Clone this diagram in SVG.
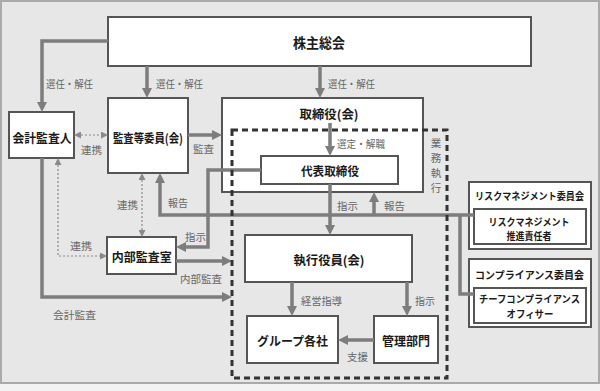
<svg xmlns="http://www.w3.org/2000/svg" width="600" height="391" viewBox="0 0 600 391">
<style>
.box{fill:#fff;stroke:#555;stroke-width:2}
.n{font-family:"Noto Sans CJK JP","Noto Sans CJK SC",sans-serif;font-weight:bold;fill:#1a1a1a;text-anchor:middle;dominant-baseline:central}
.l{font-family:"Noto Sans CJK JP","Noto Sans CJK SC",sans-serif;font-size:10.5px;fill:#666;dominant-baseline:central}
.c{fill:none;stroke:#7d7d7d;stroke-width:3.5;marker-end:url(#ah)}
.cn{fill:none;stroke:#7d7d7d;stroke-width:3.5}
.d{fill:none;stroke:#8a8a8a;stroke-width:1.2;stroke-dasharray:2 2;marker-end:url(#ad);marker-start:url(#ad)}
</style>
<defs>
<marker id="ah" viewBox="0 0 10 10" refX="5" refY="5" markerWidth="10" markerHeight="10" markerUnits="userSpaceOnUse" orient="auto">
<path d="M0,0 L10,5 L0,10 z" fill="#7d7d7d"/>
</marker>
<marker id="ad" viewBox="0 0 7 7" refX="4" refY="3.5" markerWidth="7" markerHeight="7" markerUnits="userSpaceOnUse" orient="auto-start-reverse">
<path d="M0,0 L7,3.5 L0,7 z" fill="#8a8a8a"/>
</marker>
</defs>
<rect x="1" y="1" width="598" height="382" fill="#e7e7e7" stroke="#aaa" stroke-width="2"/>
<rect x="0" y="384" width="600" height="7" fill="#f3f3f3"/>

<g id="n-kabunushi"><rect class="box" x="108" y="17" width="423" height="49"/><text class="n" x="319" y="42" font-size="14" textLength="52" lengthAdjust="spacingAndGlyphs">株主総会</text></g>
<g id="n-kaikei"><rect class="box" x="9" y="112" width="65" height="46"/><text class="n" x="42" y="137" font-size="12.5" textLength="59" lengthAdjust="spacingAndGlyphs">会計監査人</text></g>
<g id="n-kansa"><rect class="box" x="108" y="98" width="80" height="75"/><text class="n" x="148" y="137" font-size="12.5" textLength="70" lengthAdjust="spacingAndGlyphs">監査等委員(会)</text></g>
<g id="n-torishimari"><rect class="box" x="222" y="98" width="201" height="94"/><text class="n" x="329" y="113" font-size="12.5" textLength="59" lengthAdjust="spacingAndGlyphs">取締役(会)</text></g>
<g id="n-daihyo"><rect class="box" x="261" y="156" width="137" height="28"/><text class="n" x="330" y="170" font-size="12.5" textLength="58" lengthAdjust="spacingAndGlyphs">代表取締役</text></g>
<g id="n-shikko"><rect class="box" x="245" y="235" width="167" height="47"/><text class="n" x="329" y="259" font-size="12.5" textLength="71" lengthAdjust="spacingAndGlyphs">執行役員(会)</text></g>
<g id="n-group"><rect class="box" x="247" y="316" width="91" height="47"/><text class="n" x="292.5" y="340" font-size="12.5" textLength="71" lengthAdjust="spacingAndGlyphs">グループ各社</text></g>
<g id="n-kanri"><rect class="box" x="374" y="316" width="64" height="47"/><text class="n" x="406" y="340" font-size="12.5" textLength="48" lengthAdjust="spacingAndGlyphs">管理部門</text></g>
<g id="n-naibu"><rect class="box" x="107" y="237" width="69" height="37"/><text class="n" x="141.7" y="256.5" font-size="12.5" textLength="60" lengthAdjust="spacingAndGlyphs">内部監査室</text></g>
<g id="n-risk"><rect class="box" x="469" y="182" width="122" height="67"/><text class="n" x="529.5" y="195" font-size="10" textLength="109" lengthAdjust="spacingAndGlyphs">リスクマネジメント委員会</text>
<rect class="box" x="474" y="209" width="112" height="35"/><text class="n" x="529" y="221.5" font-size="10" textLength="81" lengthAdjust="spacingAndGlyphs">リスクマネジメント</text><text class="n" x="529" y="235.5" font-size="10" textLength="45" lengthAdjust="spacingAndGlyphs">推進責任者</text></g>
<g id="n-comp"><rect class="box" x="469" y="259" width="122" height="68"/><text class="n" x="529.5" y="274" font-size="10.5" textLength="109" lengthAdjust="spacingAndGlyphs">コンプライアンス委員会</text>
<rect class="box" x="474" y="288" width="112" height="35"/><text class="n" x="529.5" y="298" font-size="10" textLength="101" lengthAdjust="spacingAndGlyphs">チーフコンプライアンス</text><text class="n" x="530" y="313" font-size="10" textLength="47" lengthAdjust="spacingAndGlyphs">オフィサー</text></g>

<g id="connectors">
<path class="c" d="M108,41 H42 V107"/>
<path class="c" d="M147,66 V93"/>
<path class="c" d="M320,66 V93"/>
<path class="c" d="M188,135 H217"/>
<path class="c" d="M330,123 V151"/>
<path class="c" d="M330,184 V230"/>
<path class="c" d="M374,215 V197"/>
<path class="c" d="M474,215 H160 V178"/>
<path class="cn" d="M460,215 V294 H474"/>
<path class="c" d="M261,170 H208 V247 H181"/>
<path class="c" d="M176,261 H227"/>
<path class="c" d="M42,158 V297 H227"/>
<path class="c" d="M292,282 V311"/>
<path class="c" d="M407,282 V311"/>
<path class="c" d="M374,340 H343"/>
<path class="d" d="M77,135 H105"/>
<path class="d" d="M58,161 V256 H104"/>
<path class="d" d="M142,176 V234"/>

<text class="l" x="46" y="83" textLength="47" lengthAdjust="spacingAndGlyphs">選任・解任</text>
<text class="l" x="156" y="83" textLength="47" lengthAdjust="spacingAndGlyphs">選任・解任</text>
<text class="l" x="328" y="83" textLength="47" lengthAdjust="spacingAndGlyphs">選任・解任</text>
<text class="l" x="193" y="148" textLength="21" lengthAdjust="spacingAndGlyphs">監査</text>
<text class="l" x="81" y="149" textLength="21" lengthAdjust="spacingAndGlyphs">連携</text>
<text class="l" x="337" y="143" textLength="48" lengthAdjust="spacingAndGlyphs">選定・解職</text>
<text class="l" x="337" y="205" textLength="21" lengthAdjust="spacingAndGlyphs">指示</text>
<text class="l" x="384" y="205" textLength="21" lengthAdjust="spacingAndGlyphs">報告</text>
<text class="l" x="168" y="202" textLength="20" lengthAdjust="spacingAndGlyphs">報告</text>
<text class="l" x="117" y="204" textLength="21" lengthAdjust="spacingAndGlyphs">連携</text>
<text class="l" x="185" y="236" textLength="21" lengthAdjust="spacingAndGlyphs">指示</text>
<text class="l" x="70" y="245" textLength="22" lengthAdjust="spacingAndGlyphs">連携</text>
<text class="l" x="180" y="278" textLength="42" lengthAdjust="spacingAndGlyphs">内部監査</text>
<text class="l" x="53" y="314" textLength="43" lengthAdjust="spacingAndGlyphs">会計監査</text>
<text class="l" x="301" y="300" textLength="41" lengthAdjust="spacingAndGlyphs">経営指導</text>
<text class="l" x="415" y="300" textLength="20" lengthAdjust="spacingAndGlyphs">指示</text>
<text class="l" x="347" y="356" textLength="21" lengthAdjust="spacingAndGlyphs">支援</text>
<g class="l" text-anchor="middle">
<text x="436" y="142">業</text><text x="436" y="157">務</text><text x="436" y="172">執</text><text x="436" y="187">行</text>
</g>
</g>

<g id="exec-area"><rect x="232" y="130" width="215" height="248" fill="none" stroke="#333" stroke-width="3" stroke-dasharray="6 4"/></g>
</svg>
